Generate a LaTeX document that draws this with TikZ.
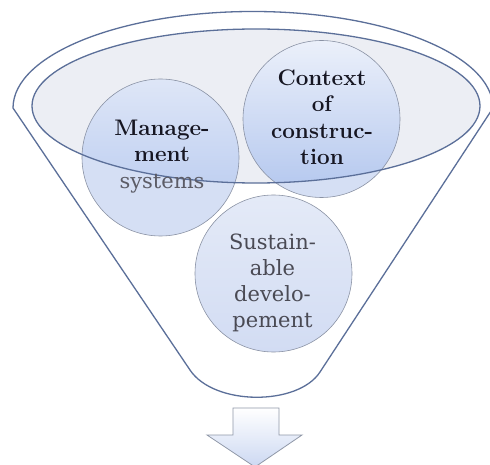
\documentclass[tikz,border=0pt]{standalone}
\usepackage{fontspec}
\newfontfamily\regfont{DejaVu Serif}
\usetikzlibrary{calc}
\definecolor{funnelline}{HTML}{5B6F99}
\definecolor{ellfill}{HTML}{ECEEF4}
\definecolor{circline}{HTML}{8A92A4}
\definecolor{circlight}{HTML}{D5DFF4}
\definecolor{circtop}{HTML}{DEE6F7}
\definecolor{circbot}{HTML}{B2C6EE}
\definecolor{sustop}{HTML}{E4EAF7}
\definecolor{susbot}{HTML}{D2DCF3}
\definecolor{arrline}{HTML}{9098A8}
\definecolor{arrbot}{HTML}{CCD8F2}
\definecolor{boldtxt}{HTML}{161622}
\definecolor{graytxt}{HTML}{5C5C66}
\definecolor{susttxt}{HTML}{4A4A54}
\tikzset{
  funnel/.style={draw=funnelline, line width=1.3pt, line join=round},
  circ/.style={circle, minimum size=157pt, inner sep=0pt},
  circedge/.style={draw=circline, line width=0.6pt},
  boldlbl/.style={align=center, inner sep=0pt, text=boldtxt,
    font=\fontsize{22.5}{26.5}\selectfont\bfseries},
  reglbl/.style={align=center, inner sep=0pt, text=susttxt,
    font=\regfont\fontsize{21}{26}\selectfont},
}
\begin{document}
\begin{tikzpicture}[x=1pt,y=-1pt]
\useasboundingbox (0,0) rectangle (490,465);
\fill[white] (0,0) rectangle (490,465);
% named reference points of the funnel
\coordinate (fl) at (13,108);
\coordinate (fr) at (493,105);
\coordinate (bl) at (190,370);
\coordinate (br) at (320,372);
% outer funnel
\draw[funnel] (bl) -- (fl) arc[start angle=180, end angle=360, x radius=240, y radius=96.5]
  -- (br) .. controls (298,406) and (214,406) .. (bl) -- cycle;
% inner ellipse fill
\fill[ellfill] (256,106) ellipse[x radius=224, y radius=77];
% circles
\node[circ, fill=circlight] (mc) at (160.5,157.5) {};
\node[circ, fill=circlight] (cc) at (321.5,119) {};
\node[circ, top color=sustop, bottom color=susbot] (sc) at (273.5,273.5) {};
\begin{scope}
  \clip (256,106) ellipse[x radius=224, y radius=77];
  \shade[top color=circtop, bottom color=circbot] (160.5,157.5) circle[radius=78.5];
  \shade[top color=circtop!60!white, bottom color=circbot] (321.5,119) circle[radius=78.5];
\end{scope}
\draw[circedge] (mc.center) circle[radius=78.5];
\draw[circedge] (cc.center) circle[radius=78.5];
\draw[circedge] (sc.center) circle[radius=78.5];
% inner ellipse outline on top
\draw[funnel] (256,106) ellipse[x radius=224, y radius=77];
% labels
\node[boldlbl] (mt) at (162,156.3) {Manage-\\ment\\{\regfont\fontsize{21}{26.5}\selectfont\mdseries\color{graytxt}systems}};
\node[boldlbl] (ct) at (322,117) {Context\\of\\construc-\\tion};
\node[reglbl] (st) at (272.5,283.3) {Sustain-\\able\\develo-\\pement};
% output arrow
\node[inner sep=0pt] (arr) at (255,436) {};
\shadedraw[draw=arrline, line width=0.8pt, top color=white, bottom color=arrbot, line join=miter]
  ($(arr)+(-22,-28)$) -- ($(arr)+(24,-28)$) -- ($(arr)+(24,-1)$) -- ($(arr)+(47,-1)$)
  -- ($(arr)+(0,31)$) -- ($(arr)+(-48,-1)$) -- ($(arr)+(-22,-1)$) -- cycle;
\end{tikzpicture}
\end{document}
